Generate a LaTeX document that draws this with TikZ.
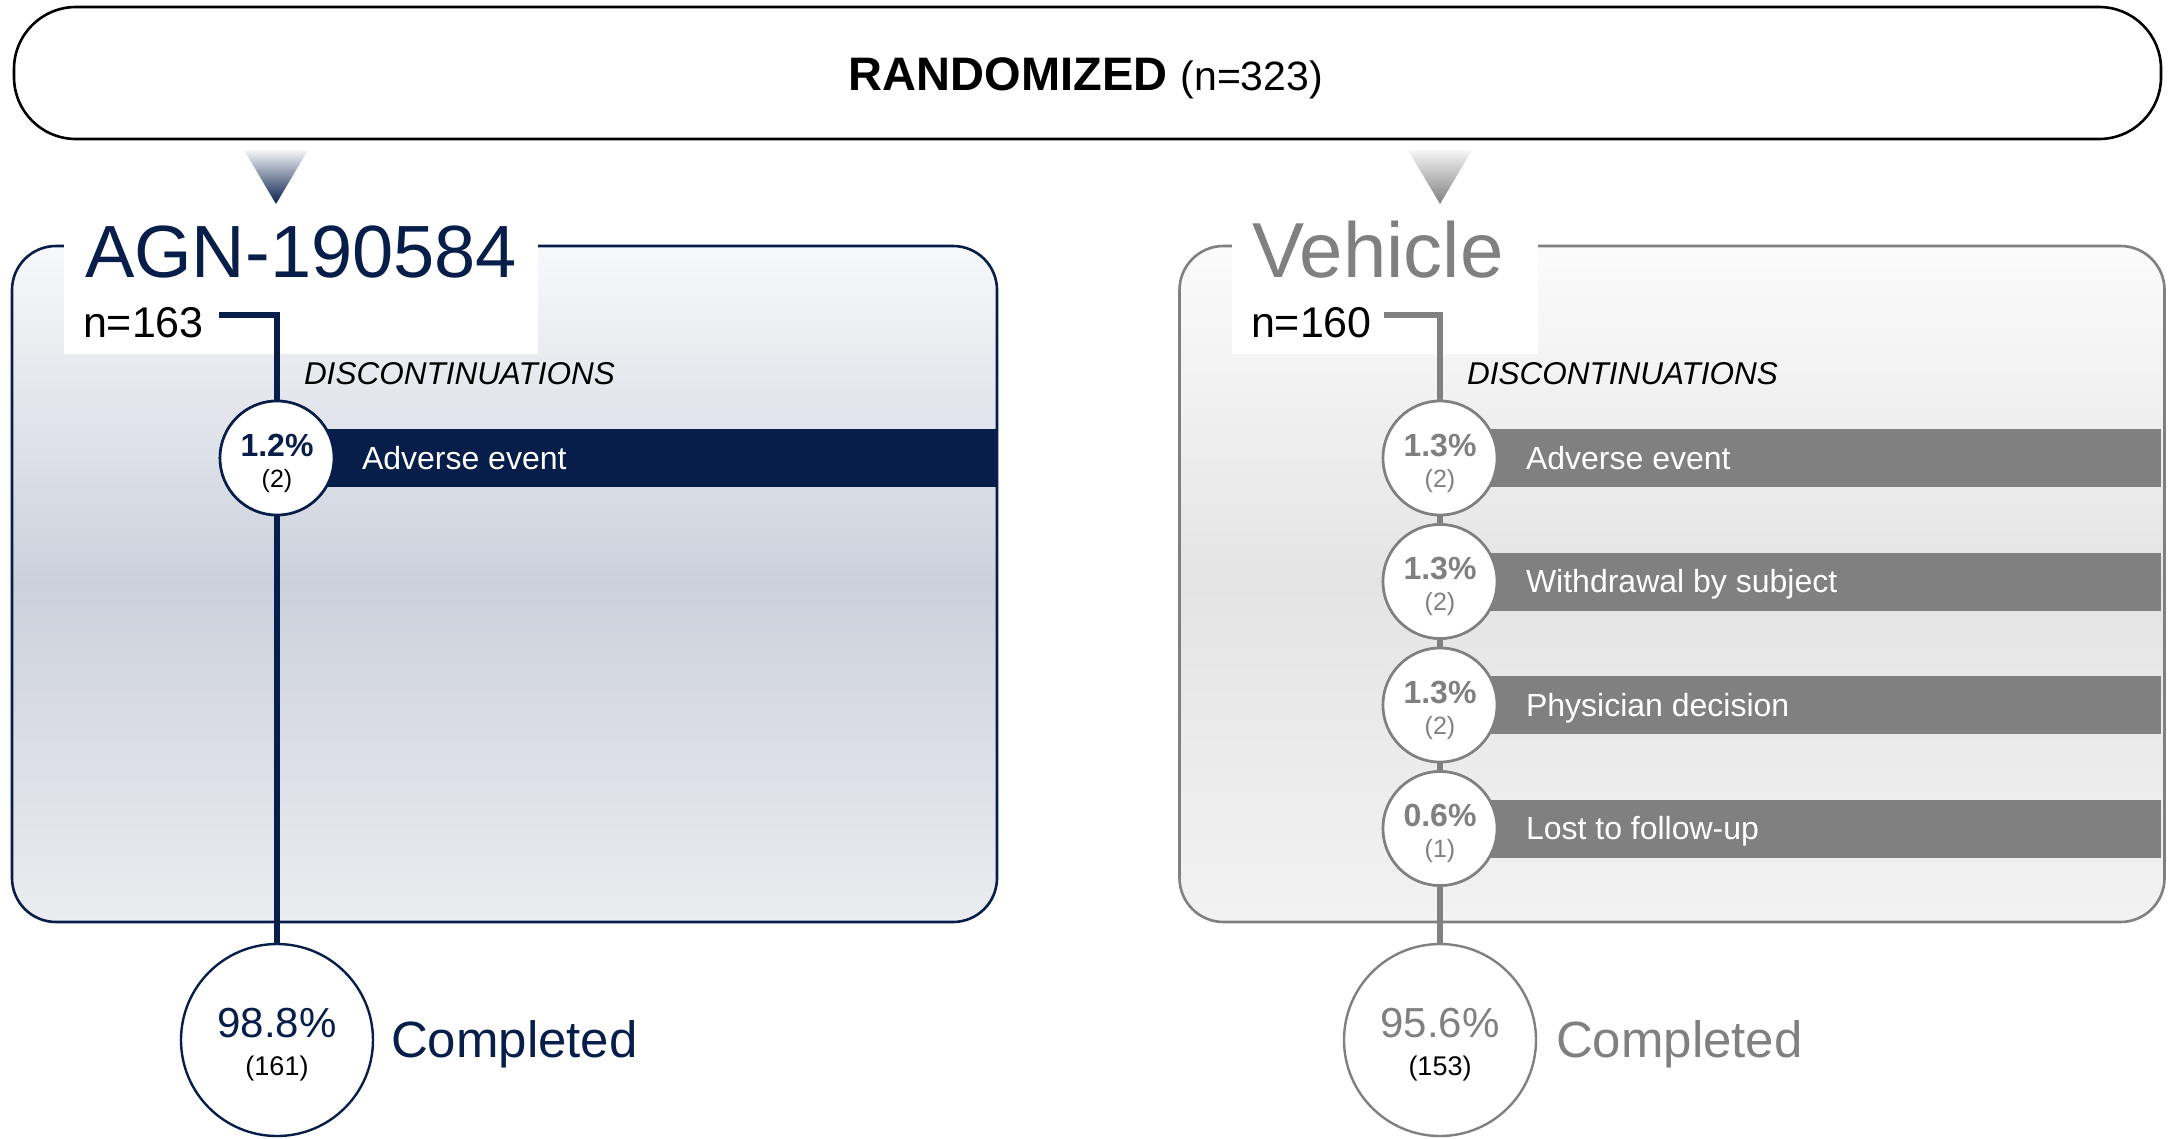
\documentclass[tikz,border=0pt]{standalone}
\usepackage{fontspec}
\setmainfont{Liberation Sans}
\definecolor{navy}{RGB}{8,30,74}
\definecolor{vgray}{RGB}{128,128,128}
\definecolor{panAtop}{RGB}{247,248,250}
\definecolor{panAmid}{RGB}{204,209,219}
\definecolor{panAbot}{RGB}{235,236,240}
\definecolor{panVtop}{RGB}{251,251,251}
\definecolor{panVmid}{RGB}{228,228,228}
\definecolor{panVbot}{RGB}{242,242,242}
\newcommand{\fsz}[1]{\fontsize{#1}{#1}\selectfont}
\begin{document}
\begin{tikzpicture}[x=1pt,y=-1pt,
  txt/.style={inner sep=0pt, outer sep=0pt, anchor=base west},
  ctxt/.style={inner sep=0pt, outer sep=0pt, anchor=base},
  panelbox/.style={rectangle, rounded corners=44pt, line width=2.6pt, inner sep=0pt,
    minimum width=985pt, minimum height=676pt},
  panelA/.style={panelbox, draw=navy, top color=panAtop, bottom color=panAbot, middle color=panAmid},
  panelV/.style={panelbox, draw=vgray, top color=panVtop, bottom color=panVbot, middle color=panVmid},
  titlebox/.style={rectangle, fill=white, inner sep=0pt, anchor=north west, minimum height=126pt},
  smallcirc/.style={circle, fill=white, line width=2.6pt, inner sep=0pt, minimum size=114pt},
  bigcirc/.style={circle, fill=white, line width=2.4pt, inner sep=0pt, minimum size=192pt},
  bar/.style={rectangle, inner sep=0pt, anchor=west, minimum height=58pt},
  conn/.style={line width=6pt},
]
\useasboundingbox (0,0) rectangle (2175,1138);

% top box
\node[rectangle, draw=black, line width=2.6pt, fill=white, rounded corners=62pt,
      minimum width=2147pt, minimum height=132pt, inner sep=0pt] (rand) at (1087.5,73) {};
\node[ctxt] (randt) at (1086,90) {\fsz{47}\textbf{RANDOMIZED} {\fsz{41}(n=323)}};

% arrows
\shade[top color=navy!4, bottom color=navy] (244,150) -- (308,150) -- (276,204) -- cycle;
\shade[top color=vgray!8, bottom color=vgray] (1408,150) -- (1472,150) -- (1440,204) -- cycle;

% panels
\node[panelA] (pA) at (504.5,584) {};
\node[panelV] (pV) at (1672,584) {};

% title boxes
\node[titlebox, minimum width=474pt] (tbA) at (64,228) {};
\node[titlebox, minimum width=306pt] (tbV) at (1232,228) {};
\node[txt, text=navy] (titA) at (85,277) {\fsz{74}AGN-190584};
\node[txt, text=vgray] (titV) at (1252,277) {\fsz{78}Vehicle};
\node[txt] (nA) at (83,337) {\fsz{43}n=163};
\node[txt] (nV) at (1251,337) {\fsz{43}n=160};
\node[txt] (dA) at (304,384) {\fsz{31.5}\itshape DISCONTINUATIONS};
\node[txt] (dV) at (1467,384) {\fsz{31.5}\itshape DISCONTINUATIONS};

% --- AGN arm
\coordinate (cA) at (219,315);
\node[smallcirc, draw=navy] (a1) at (277,458) {};
\node[bigcirc, draw=navy] (ac) at (277,1040) {};
\draw[conn, navy] (cA) -| (a1.north);
\draw[conn, navy] (a1.south) -- (ac.north);
\node[bar, fill=navy, minimum width=719pt] (ba1) at (277,458) {};
\node[smallcirc, draw=navy] (a1f) at (277,458) {};
\node[ctxt, text=navy] (pa1) at (277,456) {\fsz{32}\bfseries 1.2\%};
\node[ctxt] (na1) at (277,487) {\fsz{25}(2)};
\node[txt, text=white] (la1) at (362,469) {\fsz{32}Adverse event};
\node[ctxt, text=navy] (pac) at (277,1037) {\fsz{42}98.8\%};
\node[ctxt] (nac) at (277,1075) {\fsz{27}(161)};
\node[txt, text=navy] (lac) at (391,1057) {\fsz{51}Completed};

% --- Vehicle arm
\coordinate (cV) at (1384,315);
\node[smallcirc, draw=vgray] (v1) at (1440,458) {};
\node[smallcirc, draw=vgray] (v2) at (1440,581.5) {};
\node[smallcirc, draw=vgray] (v3) at (1440,705) {};
\node[smallcirc, draw=vgray] (v4) at (1440,828.5) {};
\node[bigcirc, draw=vgray] (vc) at (1440,1040) {};
\draw[conn, vgray] (cV) -| (v1.north);
\draw[conn, vgray] (v1.south) -- (v2.north);
\draw[conn, vgray] (v2.south) -- (v3.north);
\draw[conn, vgray] (v3.south) -- (v4.north);
\draw[conn, vgray] (v4.south) -- (vc.north);
\foreach \n/\y/\p/\c/\l in {1/458/1.3/2/Adverse event, 2/581.5/1.3/2/Withdrawal by subject,
    3/705/1.3/2/Physician decision, 4/828.5/0.6/1/Lost to follow-up}{
  \node[bar, fill=vgray, minimum width=721pt] (bv\n) at (1440,\y) {};
  \node[smallcirc, draw=vgray] (vf\n) at (1440,\y) {};
  \node[ctxt, text=vgray] (pv\n) at (1440,\y-2) {\fsz{32}\bfseries \p\%};
  \node[ctxt, text=vgray] (nv\n) at (1440,\y+29) {\fsz{25}(\c)};
  \node[txt, text=white] (lv\n) at (1526,\y+11) {\fsz{32}\l};
}
\node[ctxt, text=vgray] (pvc) at (1440,1037) {\fsz{42}95.6\%};
\node[ctxt] (nvc) at (1440,1075) {\fsz{27}(153)};
\node[txt, text=vgray] (lvc) at (1556,1057) {\fsz{51}Completed};
\end{tikzpicture}
\end{document}
